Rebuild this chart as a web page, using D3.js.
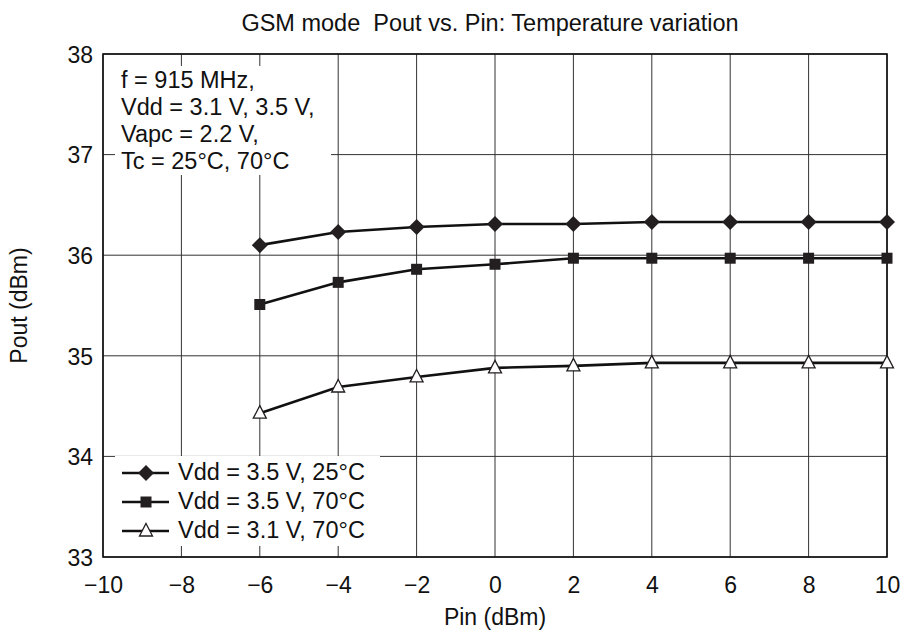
<!DOCTYPE html>
<html>
<head>
<meta charset="utf-8">
<script src="https://cdn.jsdelivr.net/npm/d3@7"></script>
<style>
  body { margin: 0; background: #fff; }
  svg text { font-family: "Liberation Sans", Arial, sans-serif; fill: #111; white-space: pre; }
</style>
</head>
<body>
<div id="chart"></div>
<script>
        // Data
        const pinValues = [-6, -4, -2, 0, 2, 4, 6, 8, 10];
        const pout35v25c = [36.10, 36.23, 36.28, 36.31, 36.31, 36.33, 36.33, 36.33, 36.33];
        const pout35v70c = [35.51, 35.73, 35.86, 35.91, 35.97, 35.97, 35.97, 35.97, 35.97];
        const pout31v70c = [34.43, 34.69, 34.79, 34.88, 34.90, 34.93, 34.93, 34.93, 34.93];
        const seriesNames = ["Vdd = 3.5 V, 25°C", "Vdd = 3.5 V, 70°C", "Vdd = 3.1 V, 70°C"];
        const xTicks = [-10, -8, -6, -4, -2, 0, 2, 4, 6, 8, 10];
        const yTicks = [33, 34, 35, 36, 37, 38];
        const noteLines = ["f = 915 MHz,", "Vdd = 3.1 V, 3.5 V,", "Vapc = 2.2 V,", "Tc = 25°C, 70°C"];

        const series = [
            { name: seriesNames[0], values: pout35v25c, marker: "diamond" },
            { name: seriesNames[1], values: pout35v70c, marker: "square" },
            { name: seriesNames[2], values: pout31v70c, marker: "triangle" }
        ];

        // SVG setup
        const width = 903, height = 635;
        const margin = { top: 54, right: 16, bottom: 78, left: 103 };
        const svg = d3.select("#chart").append("svg")
            .attr("width", width)
            .attr("height", height);

        const xScale = d3.scaleLinear().domain([-10, 10]).range([margin.left, width - margin.right]);
        const yScale = d3.scaleLinear().domain([33, 38]).range([height - margin.bottom, margin.top]);

        // text helper
        function addText(parent, x, y, str, size, anchor, rot) {
            return parent.append("text")
                .attr("transform", `translate(${x}, ${y})` + (rot ? ` rotate(${rot})` : ""))
                .attr("text-anchor", anchor || "start")
                .style("font-size", size + "px")
                .text(str);
        }

        // Grid
        const grid = svg.append("g");
        grid.selectAll(".vgrid")
            .data(xTicks)
            .enter().append("line")
            .attr("x1", d => xScale(d)).attr("x2", d => xScale(d))
            .attr("y1", yScale(33)).attr("y2", yScale(38))
            .attr("stroke", "#333").attr("stroke-width", 1);
        grid.selectAll(".hgrid")
            .data(yTicks)
            .enter().append("line")
            .attr("x1", xScale(-10)).attr("x2", xScale(10))
            .attr("y1", d => yScale(d)).attr("y2", d => yScale(d))
            .attr("stroke", "#333").attr("stroke-width", 1);

        // White boxes behind the note and the legend
        svg.append("rect").attr("x", xScale(-10) + 12).attr("y", 66)
            .attr("width", 216).attr("height", 109).attr("fill", "#fff");
        svg.append("rect").attr("x", xScale(-10) + 12).attr("y", 456)
            .attr("width", 265).attr("height", 90).attr("fill", "#fff");

        // Frame
        svg.append("rect")
            .attr("x", xScale(-10)).attr("y", yScale(38))
            .attr("width", xScale(10) - xScale(-10))
            .attr("height", yScale(33) - yScale(38))
            .attr("fill", "none").attr("stroke", "#111").attr("stroke-width", 1.6);

        // Axes (labels only, the frame and grid are drawn above)
        const xAxis = svg.append("g")
            .attr("transform", `translate(0, ${yScale(33)})`)
            .call(d3.axisBottom(xScale).tickValues(xTicks).tickSize(0).tickFormat(""));
        const yAxis = svg.append("g")
            .attr("transform", `translate(${xScale(-10)}, 0)`)
            .call(d3.axisLeft(yScale).tickValues(yTicks).tickSize(0).tickFormat(""));
        xAxis.select(".domain").remove();
        yAxis.select(".domain").remove();
        xAxis.selectAll(".tick").each(function(d) {
            addText(d3.select(this), 0, 36, d < 0 ? "\u2212" + Math.abs(d) : String(d), 23, "middle");
        });
        yAxis.selectAll(".tick").each(function(d) {
            addText(d3.select(this), -10, 8.3, d3.format("d")(d), 23, "end");
        });

        // Markers
        function drawMarker(g, type, x, y) {
            if (type === "diamond") {
                g.append("path")
                    .attr("d", `M${x},${y - 8}L${x + 8},${y}L${x},${y + 8}L${x - 8},${y}Z`)
                    .attr("fill", "#231f20");
            } else if (type === "square") {
                g.append("rect").attr("x", x - 5.5).attr("y", y - 5.5)
                    .attr("width", 11).attr("height", 11).attr("fill", "#231f20");
            } else {
                g.append("path")
                    .attr("d", `M${x},${y - 7.5}L${x + 6.5},${y + 5}L${x - 6.5},${y + 5}Z`)
                    .attr("fill", "#fff").attr("stroke", "#231f20").attr("stroke-width", 1.3);
            }
        }

        // Lines and points
        const line = d3.line()
            .x((d, i) => xScale(pinValues[i]))
            .y(d => yScale(d));

        series.forEach(s => {
            svg.append("path")
                .datum(s.values)
                .attr("d", line)
                .attr("fill", "none")
                .attr("stroke", "#111")
                .attr("stroke-width", 2.6);
            const g = svg.append("g");
            s.values.forEach((v, i) => drawMarker(g, s.marker, xScale(pinValues[i]), yScale(v)));
        });

        // Note text
        const note = svg.append("g");
        noteLines.forEach((t, i) => addText(note, 121, 87.5 + i * 27.2, t, 23.5));

        // Legend
        const legend = svg.append("g");
        series.forEach((s, i) => {
            const cy = 473 + i * 29;
            legend.append("line")
                .attr("x1", 122).attr("x2", 169)
                .attr("y1", cy).attr("y2", cy)
                .attr("stroke", "#111").attr("stroke-width", 2.6);
            drawMarker(legend, s.marker, 146, cy);
            addText(legend, 178, cy + 6.5, s.name, 23.5);
        });

        // Titles
        addText(svg, 490, 31, "GSM mode  Pout vs. Pin: Temperature variation", 23.5, "middle");
        addText(svg, 495, 625, "Pin (dBm)", 23, "middle");
        addText(svg, 27, yScale(35.5), "Pout (dBm)", 23, "middle", -90);
</script>
</body>
</html>
